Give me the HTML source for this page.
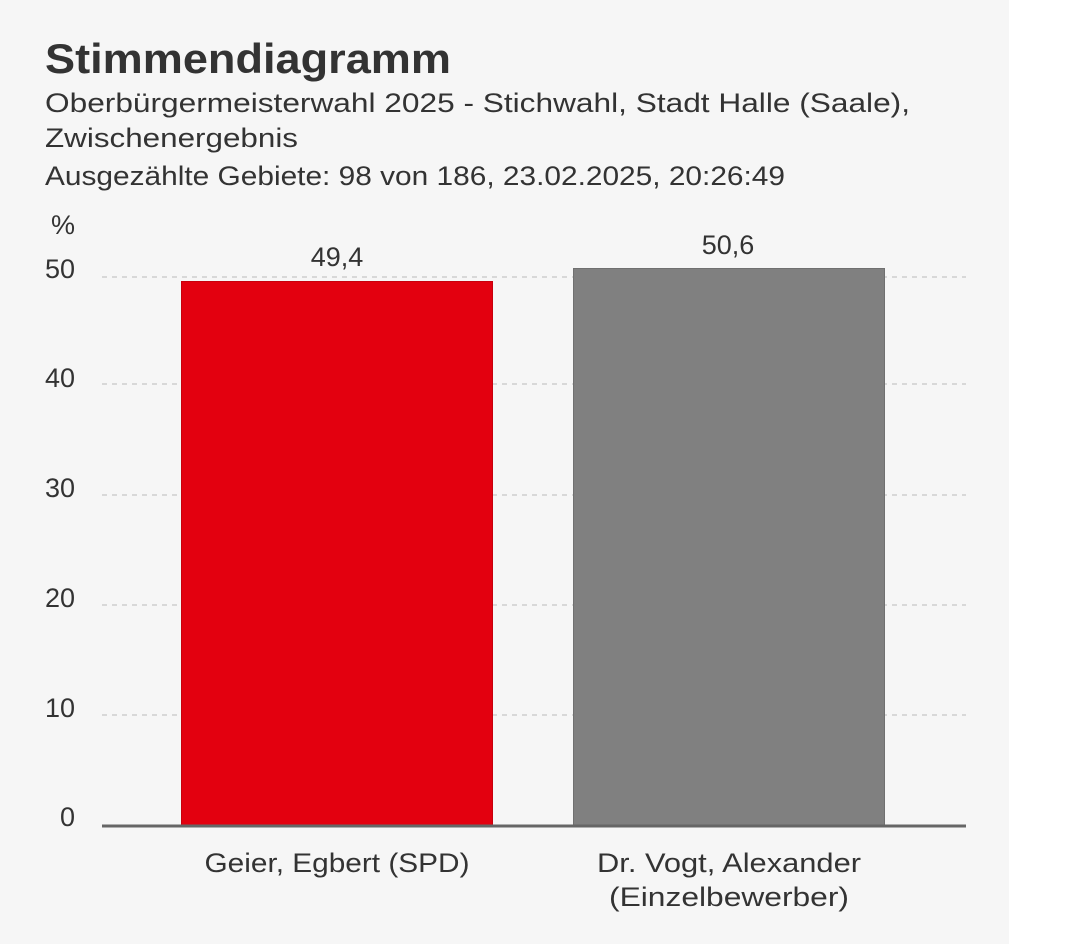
<!DOCTYPE html>
<html><head><meta charset="utf-8"><style>
html,body{margin:0;padding:0;background:#fff;}
svg{display:block;}
text{font-family:"Liberation Sans",sans-serif;fill:#333;}
</style></head><body>
<svg width="1080" height="944" viewBox="0 0 1080 944">
<rect x="0" y="0" width="1009" height="944" fill="#f6f6f6"/>
<text x="45" y="73" font-size="42" font-weight="bold" textLength="406" lengthAdjust="spacingAndGlyphs">Stimmendiagramm</text>
<text x="45" y="112" font-size="27" textLength="865" lengthAdjust="spacingAndGlyphs">Oberbürgermeisterwahl 2025 - Stichwahl, Stadt Halle (Saale),</text>
<text x="45" y="147" font-size="27" textLength="253" lengthAdjust="spacingAndGlyphs">Zwischenergebnis</text>
<text x="45" y="185" font-size="27" textLength="740" lengthAdjust="spacingAndGlyphs">Ausgezählte Gebiete: 98 von 186, 23.02.2025, 20:26:49</text>
<g stroke="#d8d8d8" stroke-width="2" stroke-dasharray="5,5">
<line x1="102" y1="277" x2="966" y2="277"/>
<line x1="102" y1="384" x2="966" y2="384"/>
<line x1="102" y1="495" x2="966" y2="495"/>
<line x1="102" y1="605" x2="966" y2="605"/>
<line x1="102" y1="715" x2="966" y2="715"/>
</g>
<g font-size="27" text-anchor="end">
<text x="75" y="234">%</text>
<text x="75" y="278">50</text>
<text x="75" y="387">40</text>
<text x="75" y="497">30</text>
<text x="75" y="607">20</text>
<text x="75" y="717">10</text>
<text x="75" y="826">0</text>
</g>
<rect x="181.5" y="281.5" width="311" height="544" fill="#e3000f" stroke="#c8000d" stroke-width="1"/>
<rect x="573.5" y="268.5" width="311" height="557" fill="#808080" stroke="#707070" stroke-width="1"/>
<line x1="102" y1="826" x2="966" y2="826" stroke="#666" stroke-width="3"/>
<g font-size="27" text-anchor="middle">
<text x="337" y="266">49,4</text>
<text x="728" y="254">50,6</text>
<text x="337" y="872" textLength="265" lengthAdjust="spacingAndGlyphs">Geier, Egbert (SPD)</text>
<text x="729" y="872" textLength="264" lengthAdjust="spacingAndGlyphs">Dr. Vogt, Alexander</text>
<text x="729" y="906" textLength="240" lengthAdjust="spacingAndGlyphs">(Einzelbewerber)</text>
</g>
</svg>
</body></html>
